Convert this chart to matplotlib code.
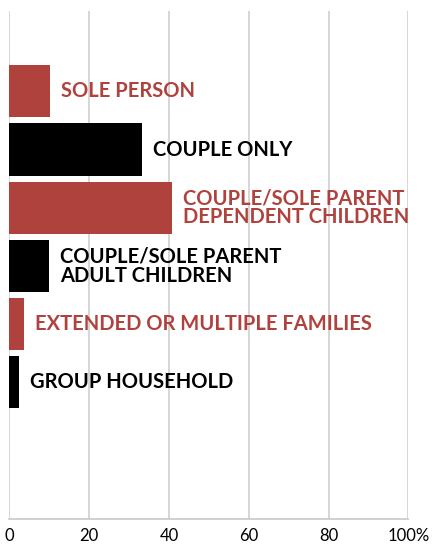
import matplotlib.pyplot as plt

# household types, top to bottom
categories = ['SOLE PERSON', 'COUPLE ONLY', 'COUPLE/SOLE PARENT\nDEPENDENT CHILDREN',
              'COUPLE/SOLE PARENT\nADULT CHILDREN', 'EXTENDED OR MULTIPLE FAMILIES',
              'GROUP HOUSEHOLD']
values = [10.2, 33.3, 40.8, 9.9, 3.7, 2.4]
xticks = [0, 20, 40, 60, 80, 100]
xticklabels = ['0', '20', '40', '60', '80', '100%']

red = '#b0423d'
colors = [red, 'black', red, 'black', red, 'black']

fig = plt.figure(figsize=(4.33, 5.44), dpi=100)
ax = fig.add_axes([9.3 / 433, 1 - 519.3 / 544, 399 / 433, 508.6 / 544])

pos = list(range(len(categories)))
ax.barh(pos, values, height=0.9, color=colors, zorder=3)

for p, v, lab, c in zip(pos, values, categories, colors):
    ax.annotate(lab, (v, p), xytext=(8, 0), textcoords='offset points',
                va='center', ha='left', color=c, fontsize=14.5,
                fontweight='bold', family='Lato', linespacing=0.95)

ax.set_xlim(0, 100)
ax.set_ylim(7.354, -1.385)
ax.set_xticks(xticks)
ax.set_xticklabels(xticklabels, family='Lato', fontsize=12)
ax.set_yticks([])
ax.tick_params(axis='x', length=0, pad=6)
ax.grid(axis='x', color='#d0d0d0', linewidth=1.2, zorder=0)
for s in ['top', 'right', 'left']:
    ax.spines[s].set_visible(False)
ax.spines['bottom'].set_color('#c8c8c8')
ax.spines['bottom'].set_linewidth(1.2)

fig.savefig('out.png', dpi=100)
